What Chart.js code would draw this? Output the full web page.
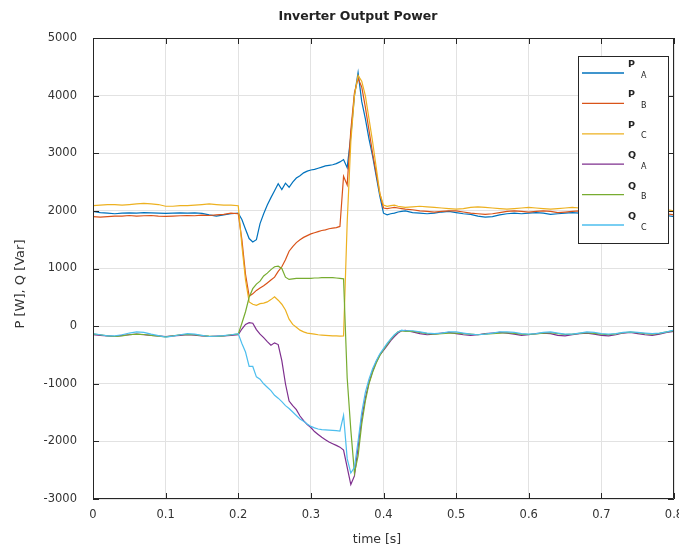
<!DOCTYPE html>
<html>
<head>
<meta charset="utf-8">
<title>Inverter Output Power</title>
<script src="https://cdn.jsdelivr.net/npm/chart.js@4.4.1/dist/chart.umd.min.js"></script>
<style>
  html, body { margin: 0; padding: 0; background: #ffffff; }
  canvas { display: block; }
</style>
</head>
<body>
<canvas id="chart" width="679" height="549"></canvas>
<script>
// Sample times [s]: pre-fault, transient (fine step), post-fault
const time = [
  0, 0.01, 0.02, 0.03, 0.04, 0.05, 0.06, 0.07, 0.08, 0.09, 0.1, 0.11, 0.12, 0.13, 0.14, 0.15, 0.16, 0.17, 0.18, 0.19, 0.2,
  0.205, 0.21, 0.215, 0.22, 0.225, 0.23, 0.235, 0.24, 0.245, 0.25, 0.255, 0.26, 0.265, 0.27, 0.275, 0.28, 0.285, 0.29, 0.295, 0.3,
  0.305, 0.31, 0.315, 0.32, 0.325, 0.33, 0.335, 0.34, 0.345, 0.35, 0.355, 0.36, 0.365, 0.37, 0.375, 0.38, 0.385, 0.39, 0.395, 0.4,
  0.405, 0.41, 0.415, 0.42, 0.425, 0.43,
  0.44, 0.45, 0.46, 0.47, 0.48, 0.49, 0.5, 0.51, 0.52, 0.53, 0.54, 0.55, 0.56, 0.57, 0.58, 0.59, 0.6, 0.61, 0.62,
  0.63, 0.64, 0.65, 0.66, 0.67, 0.68, 0.69, 0.7, 0.71, 0.72, 0.73, 0.74, 0.75, 0.76, 0.77, 0.78, 0.79, 0.8
];

// Active power per phase [W]
const pA = [
  1990, 1970, 1960, 1950, 1960, 1965, 1960, 1970, 1965, 1960, 1955, 1960, 1965, 1960, 1965, 1955, 1930, 1910, 1930, 1950, 1960,
  1850, 1680, 1520, 1460, 1500, 1780, 1950, 2100, 2230, 2350, 2470, 2370, 2480, 2410, 2500, 2570, 2610, 2660, 2690, 2710,
  2720, 2740, 2760, 2780, 2790, 2800, 2820, 2850, 2890, 2750, 3300, 4000, 4400, 3900, 3600, 3250, 2950, 2600, 2250, 1960,
  1930, 1950, 1960, 1980, 1990, 2000,
  1970, 1960, 1950, 1960, 1980, 1990, 1970, 1950, 1940, 1910, 1890, 1900, 1930, 1950, 1960, 1950, 1960, 1970, 1960,
  1940, 1950, 1960, 1970, 1960, 1950, 1940, 1930, 1920, 1930, 1950, 1940, 1930, 1920, 1910, 1900, 1920, 1900
];
const pB = [
  1900, 1890, 1900, 1910, 1910, 1920, 1910, 1915, 1920, 1910, 1905, 1910, 1915, 1920, 1915, 1925, 1920, 1930, 1940, 1960, 1950,
  1500, 900, 520, 560, 620, 660, 700, 750, 800, 850, 950, 1030, 1150, 1300, 1380, 1450, 1500, 1540, 1570, 1600,
  1620, 1640, 1660, 1670, 1690, 1700, 1710, 1730, 2600, 2450, 3400, 4050, 4300, 4150, 3800, 3400, 3000, 2650, 2300, 2050,
  2040, 2050, 2060, 2050, 2040, 2030,
  2020, 2000, 1990, 1980, 1990, 2000, 2000, 1980, 1960, 1950, 1940, 1950, 1970, 1990, 2000, 1990, 1980, 1990, 2000,
  1990, 1970, 1980, 1990, 2000, 1990, 1970, 1960, 1960, 1970, 1980, 1970, 1950, 1940, 1950, 1960, 1950, 1930
];
const pC = [
  2090, 2100, 2110, 2110, 2100, 2110, 2120, 2130, 2120, 2110, 2080, 2080, 2090, 2090, 2100, 2110, 2120, 2110, 2100, 2100, 2090,
  1400, 800, 420, 380, 360, 390, 400, 420, 460, 510, 450, 380, 280, 120, 30, -20, -70, -100, -120, -130,
  -140, -150, -155, -160, -165, -170, -170, -175, -170, 1800, 3200, 4000, 4350, 4250, 4000, 3600, 3200, 2750, 2300, 2100,
  2080, 2090, 2100, 2080, 2070, 2060,
  2070, 2080, 2070, 2060, 2050, 2040, 2030, 2040, 2060, 2070, 2060, 2050, 2040, 2030, 2040, 2050, 2060, 2050, 2040,
  2030, 2040, 2050, 2060, 2050, 2030, 2020, 2010, 2020, 2030, 2040, 2030, 2020, 2010, 2000, 2010, 2020, 2000
];

// Reactive power per phase [Var]
const qA = [
  -150, -160, -170, -180, -160, -150, -140, -150, -160, -170, -180, -170, -160, -150, -155, -170, -180, -175, -170, -160, -150,
  -50, 30, 60, 50, -60, -140, -200, -270, -330, -290, -320, -600, -1000, -1300, -1380, -1450, -1560, -1640, -1710, -1760,
  -1830, -1880, -1930, -1970, -2010, -2040, -2070, -2100, -2150, -2450, -2750, -2600, -2100, -1600, -1250, -980, -780, -620, -500, -420,
  -340, -250, -180, -120, -80, -75,
  -100, -130, -150, -140, -120, -110, -130, -150, -160, -150, -130, -120, -110, -120, -140, -160, -150, -130, -120,
  -130, -160, -170, -150, -130, -120, -140, -160, -170, -150, -120, -110, -130, -150, -160, -140, -110, -90
];
const qB = [
  -140, -150, -170, -180, -170, -150, -140, -145, -160, -175, -185, -170, -150, -145, -150, -165, -175, -180, -170, -150, -140,
  50, 250, 500, 650, 730, 780, 870, 920, 980, 1030, 1040, 1000, 850, 810, 820, 830, 830, 830, 830, 830,
  835, 835, 840, 840, 840, 840, 835, 830, 820, -900, -1800, -2550, -2250, -1700, -1300, -1000, -800, -640, -510, -410,
  -320, -230, -160, -100, -80, -90,
  -90, -110, -130, -140, -130, -120, -120, -130, -140, -150, -140, -130, -120, -115, -125, -140, -145, -135, -120,
  -115, -130, -145, -140, -125, -115, -125, -140, -150, -135, -115, -105, -115, -130, -140, -125, -100, -80
];
const qC = [
  -130, -150, -170, -170, -150, -120, -100, -110, -140, -165, -190, -175, -150, -130, -140, -160, -180, -175, -165, -150, -130,
  -300, -450, -700, -700, -880, -920, -1000, -1060, -1120, -1200, -1250, -1310, -1380, -1430, -1490, -1550, -1610, -1650, -1700, -1740,
  -1765, -1785, -1795, -1800, -1805, -1810, -1815, -1820, -1550, -2300, -2550, -2450, -2000, -1500, -1150, -920, -740, -600, -480, -390,
  -300, -220, -150, -100, -70, -80,
  -80, -100, -120, -130, -120, -100, -100, -120, -140, -150, -140, -120, -100, -100, -110, -130, -140, -130, -110,
  -100, -120, -140, -140, -120, -100, -110, -130, -140, -130, -110, -100, -110, -120, -130, -120, -100, -70
];

const seriesValues = [pA, pB, pC, qA, qB, qC];
const seriesSymbol = ['P', 'P', 'P', 'Q', 'Q', 'Q'];
const seriesPhase = ['A', 'B', 'C', 'A', 'B', 'C'];
const seriesColors = ['#0072BD', '#D95319', '#EDB120', '#7E2F8E', '#77AC30', '#4DBEEE'];

const xTickValues = [0, 0.1, 0.2, 0.3, 0.4, 0.5, 0.6, 0.7, 0.8];
const yTickValues = [-3000, -2000, -1000, 0, 1000, 2000, 3000, 4000, 5000];

const chartTitle = 'Inverter Output Power';
const xTitle = 'time [s]';
const yTitle = 'P [W], Q [Var]';

const AXIS_COLOR = '#262626';
const TEXT_COLOR = '#333333';
const GRID_COLOR = '#e2e2e2';

const datasets = seriesValues.map((vals, i) => ({
  label: seriesSymbol[i] + seriesPhase[i],
  data: time.map((t, k) => ({ x: t, y: vals[k] })),
  borderColor: seriesColors[i],
  backgroundColor: seriesColors[i],
  borderWidth: 1.2,
  pointRadius: 0,
  tension: 0,
  fill: false,
  order: seriesValues.length - i
}));

// Box, inward tick marks, titles and legend
const decorations = {
  id: 'decorations',
  afterDatasetsDraw(chart) {
    const { ctx, chartArea: a, scales } = chart;
    const x = scales.x, y = scales.y;
    const tl = 6;
    ctx.save();
    ctx.strokeStyle = AXIS_COLOR;
    ctx.lineWidth = 1;
    ctx.beginPath();
    ctx.rect(Math.round(a.left) + 0.5, Math.round(a.top) + 0.5,
             Math.round(a.right - a.left) - 1, Math.round(a.bottom - a.top) - 1);
    xTickValues.forEach(v => {
      const px = Math.round(x.getPixelForValue(v)) + 0.5;
      ctx.moveTo(px, a.bottom); ctx.lineTo(px, a.bottom - tl);
      ctx.moveTo(px, a.top); ctx.lineTo(px, a.top + tl);
    });
    yTickValues.forEach(v => {
      const py = Math.round(y.getPixelForValue(v)) + 0.5;
      ctx.moveTo(a.left, py); ctx.lineTo(a.left + tl, py);
      ctx.moveTo(a.right, py); ctx.lineTo(a.right - tl, py);
    });
    ctx.stroke();
    ctx.restore();
  },
  afterDraw(chart) {
    const { ctx } = chart;
    ctx.save();
    // title
    ctx.fillStyle = '#222222';
    ctx.font = 'bold 12.5px "DejaVu Sans", sans-serif';
    ctx.textAlign = 'center';
    ctx.textBaseline = 'middle';
    ctx.fillText(chartTitle, 358, 17);
    // axis titles
    ctx.fillStyle = TEXT_COLOR;
    ctx.font = '12.5px "DejaVu Sans", sans-serif';
    ctx.fillText(xTitle, 377, 540);
    ctx.save();
    ctx.translate(21, 284);
    ctx.rotate(-Math.PI / 2);
    ctx.font = '13px "DejaVu Sans", sans-serif';
    ctx.fillText(yTitle, 0, 0);
    ctx.restore();

    // legend
    const lx = 578.5, ly = 56.5, lw = 90, lh = 187;
    ctx.fillStyle = '#ffffff';
    ctx.fillRect(lx, ly, lw, lh);
    ctx.strokeStyle = AXIS_COLOR;
    ctx.lineWidth = 1;
    ctx.strokeRect(lx, ly, lw, lh);
    chart.data.datasets.forEach((ds, i) => {
      const rowY = 73 + i * 30.4;
      ctx.strokeStyle = ds.borderColor;
      ctx.lineWidth = 1.3;
      ctx.beginPath();
      ctx.moveTo(582, rowY);
      ctx.lineTo(624, rowY);
      ctx.stroke();
      ctx.fillStyle = '#222222';
      ctx.textAlign = 'left';
      ctx.textBaseline = 'middle';
      ctx.font = 'bold 9.5px "DejaVu Sans", sans-serif';
      ctx.fillText(seriesSymbol[i], 628, rowY - 8.5);
      ctx.font = '8px "DejaVu Sans", sans-serif';
      ctx.fillText(seriesPhase[i], 641, rowY + 2.5);
    });
    ctx.restore();
  }
};

new Chart(document.getElementById('chart'), {
  type: 'line',
  data: { datasets },
  options: {
    responsive: false,
    devicePixelRatio: 1,
    animation: false,
    parsing: true,
    layout: { padding: { top: 38, right: 5, bottom: 0, left: 0 } },
    plugins: {
      legend: { display: false },
      title: { display: false },
      tooltip: { enabled: false }
    },
    scales: {
      x: {
        type: 'linear',
        min: 0,
        max: 0.8,
        afterBuildTicks(scale) { scale.ticks = xTickValues.map(v => ({ value: v })); },
        afterFit(scale) { scale.height = 50; scale.paddingLeft = 0; scale.paddingRight = 0; },
        grid: { color: GRID_COLOR, drawTicks: false, lineWidth: 1 },
        border: { display: false },
        ticks: {
          color: TEXT_COLOR,
          font: { family: '"DejaVu Sans", sans-serif', size: 11.5 },
          padding: 9,
          maxRotation: 0,
          autoSkip: false,
          callback: v => String(v)
        }
      },
      y: {
        type: 'linear',
        min: -3000,
        max: 5000,
        afterBuildTicks(scale) { scale.ticks = yTickValues.map(v => ({ value: v })); },
        afterFit(scale) { scale.width = 93; scale.paddingTop = 0; scale.paddingBottom = 0; },
        grid: { color: GRID_COLOR, drawTicks: false, lineWidth: 1 },
        border: { display: false },
        ticks: {
          color: TEXT_COLOR,
          font: { family: '"DejaVu Sans", sans-serif', size: 11.5 },
          padding: 16,
          autoSkip: false,
          callback: v => String(v)
        }
      }
    }
  },
  plugins: [decorations]
});
</script>
</body>
</html>
